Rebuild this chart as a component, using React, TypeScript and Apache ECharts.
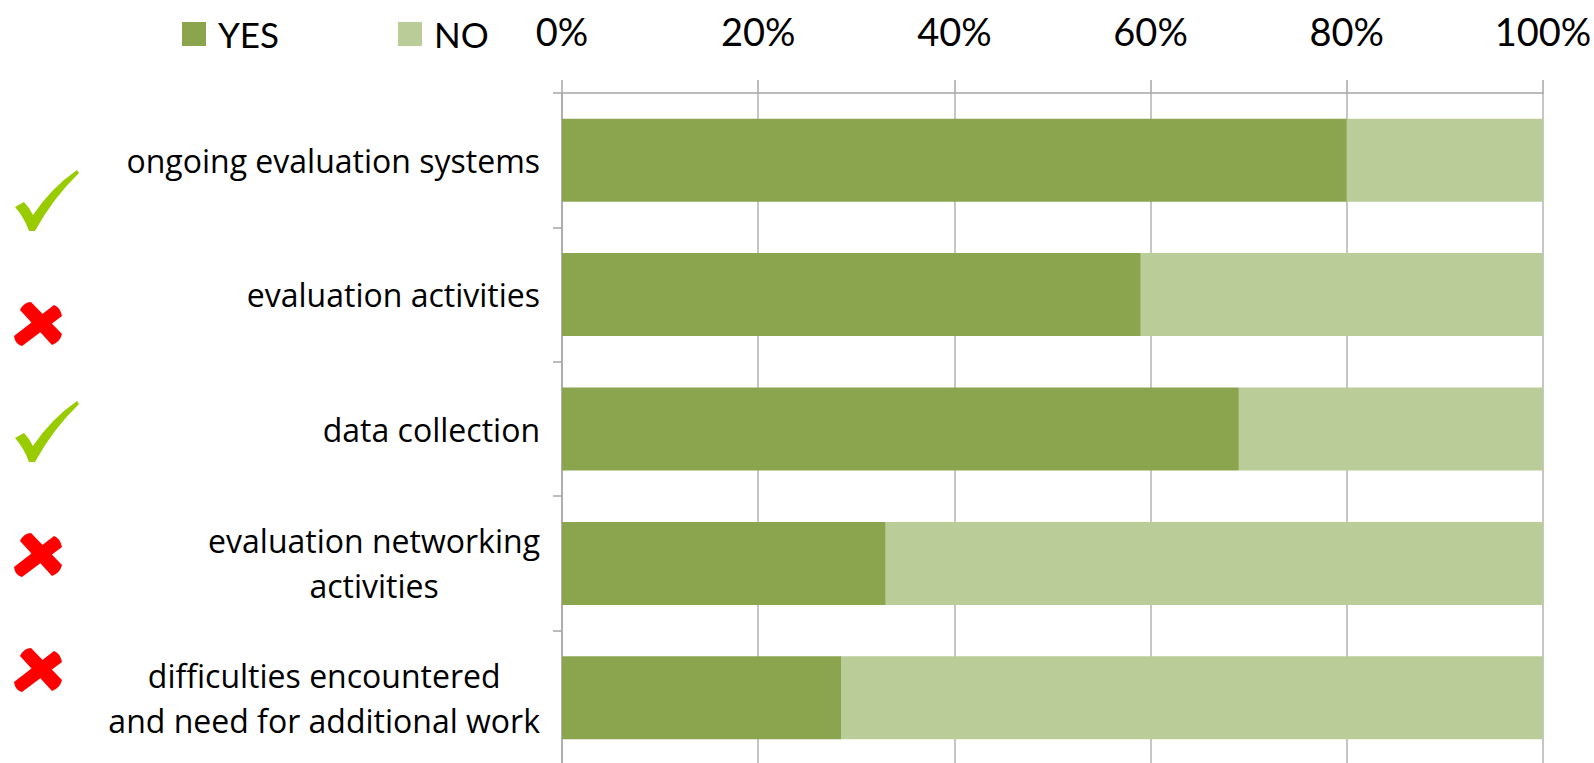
import React, { useEffect, useRef } from "react";
import * as echarts from "echarts";

const categories = [
  "ongoing evaluation systems",
  "evaluation activities",
  "data collection",
  "evaluation networking\nactivities",
  "difficulties encountered\nand need for additional work",
];
const yesValues = [80, 59, 69, 33, 28.5];
const noValues = [20, 41, 31, 67, 71.5];
const seriesNames = ["YES", "NO"];
const tickSuffix = "%";

const CHECK_D =
  "M0 37 L9 32 Q14 37 18 45 Q36 18 62 0 L64 3 Q38 28 20 61 L14 61 Q9 47 0 37 Z";
const CROSS_D =
  "M6 8 Q10 0 17 0 L48 32 Q46 40 38 43 Z M40 3 Q46 5 48 14 L8 44 Q1 42 0 34 Z";

let registered = false;
function registerShapes() {
  if (registered) return;
  registered = true;
  echarts.graphic.registerShape("checkmark", echarts.graphic.extendPath(CHECK_D, {}) as any);
  echarts.graphic.registerShape("crossmark", echarts.graphic.extendPath(CROSS_D, {}) as any);
}

export default function App() {
  const ref = useRef<HTMLDivElement>(null);
  useEffect(() => {
    if (!ref.current) return;
    registerShapes();
    const chart = echarts.init(ref.current, undefined, { renderer: "svg" });
    const font = "Lato, 'Open Sans', sans-serif";
    const labelFont = "'Open Sans', Lato, sans-serif";
    const legendBase = {
      icon: "rect",
      itemWidth: 24,
      itemHeight: 24,
      top: 9,
      textStyle: {
        fontSize: 35,
        fontFamily: font,
        color: "#000",
        lineHeight: 40,
        padding: [0, 0, 0, 7],
      },
    };
    chart.setOption({
      animation: false,
      backgroundColor: "#fff",
      legend: [
        { ...legendBase, left: 177, data: [seriesNames[0]] },
        { ...legendBase, left: 393, data: [seriesNames[1]] },
      ],
      grid: {
        left: 562,
        right: 51,
        top: 93,
        height: 672,
        containLabel: false,
        outerBoundsMode: "none",
      },
      xAxis: {
        type: "value",
        position: "top",
        min: 0,
        max: 100,
        interval: 20,
        axisLine: { show: true, lineStyle: { color: "#a6a6a6", width: 1.5 } },
        axisTick: { show: true, length: 13, lineStyle: { color: "#a6a6a6", width: 1.5 } },
        splitLine: { show: true, lineStyle: { color: "#b3b3b3", width: 1.5 } },
        axisLabel: {
          formatter: "{value}" + tickSuffix,
          fontSize: 38,
          fontFamily: font,
          color: "#000",
          lineHeight: 40,
          margin: 42,
        },
      },
      yAxis: {
        type: "category",
        inverse: true,
        data: categories,
        axisLine: { show: true, lineStyle: { color: "#a6a6a6", width: 1.5 } },
        axisTick: { show: true, length: 9, lineStyle: { color: "#a6a6a6", width: 1.5 } },
        axisLabel: {
          margin: 22,
          formatter: (v: string) =>
            v
              .split("\n")
              .map((l) => `{a|${l}}`)
              .join("\n"),
          rich: {
            a: {
              align: "center",
              fontSize: 32,
              fontFamily: labelFont,
              lineHeight: 45,
              color: "#000",
            },
          },
        },
      },
      series: [
        {
          name: seriesNames[0],
          type: "bar",
          stack: "total",
          barWidth: 83,
          data: yesValues,
          itemStyle: { color: "#8aa54e" },
        },
        {
          name: seriesNames[1],
          type: "bar",
          stack: "total",
          barWidth: 83,
          data: noValues,
          itemStyle: { color: "#bacd98" },
        },
      ],
      graphic: [
        { type: "checkmark", x: 15, y: 170, style: { fill: "#99cc00" } },
        { type: "crossmark", x: 14, y: 302, style: { fill: "#ff0000" } },
        { type: "checkmark", x: 15, y: 401, style: { fill: "#99cc00" } },
        { type: "crossmark", x: 14, y: 533, style: { fill: "#ff0000" } },
        { type: "crossmark", x: 14, y: 648, style: { fill: "#ff0000" } },
      ],
    });
    return () => chart.dispose();
  }, []);
  return (
    <div
      ref={ref}
      style={{ position: "absolute", left: 0, top: 0, width: 1594, height: 763 }}
    />
  );
}
